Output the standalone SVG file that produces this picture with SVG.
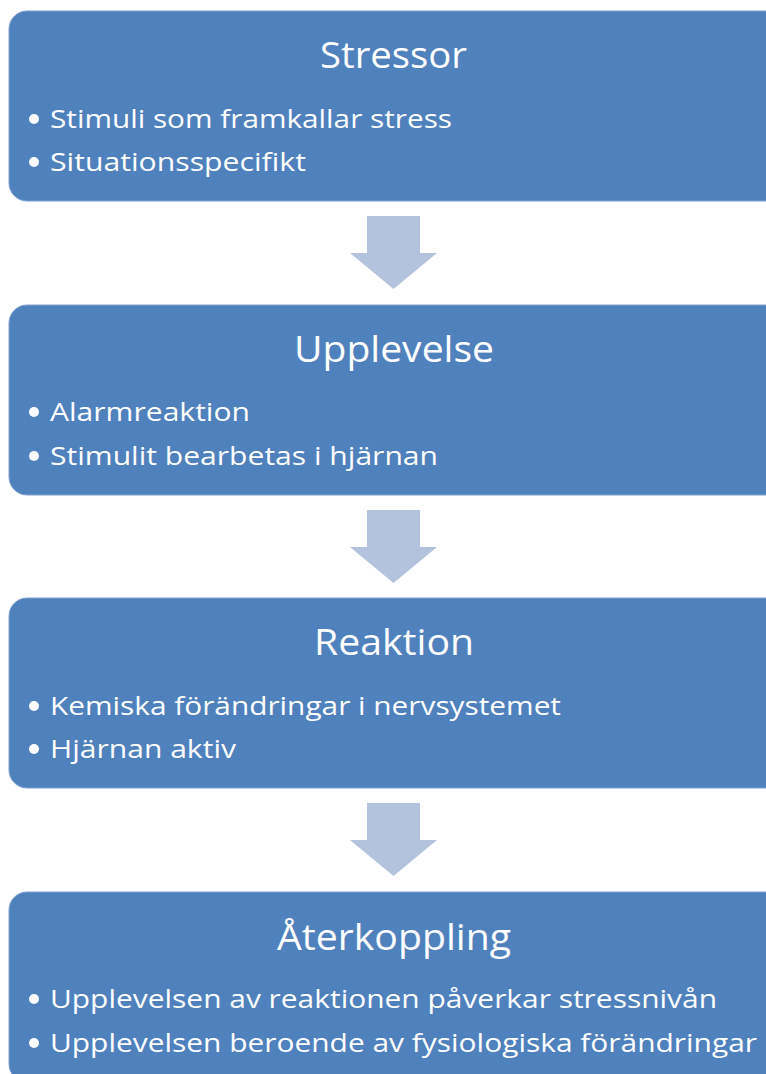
<svg xmlns="http://www.w3.org/2000/svg" width="766" height="1074" viewBox="0 0 766 1074">
<style>
.box{fill:#4F81BD;stroke:#7FA1D0;stroke-width:1}
.arrow{fill:#B3C2DD}
.title{font-family:"Open Sans","Liberation Sans",Arial,sans-serif;font-size:37px;fill:#FFFFFF;text-anchor:middle}
.item{font-family:"Open Sans","Liberation Sans",Arial,sans-serif;font-size:26px;fill:#FFFFFF}
</style>
<defs>
<circle id="dot" r="5" fill="#FFFFFF"/>
</defs>
<rect width="766" height="1074" fill="#FFFFFF"/>
<g id="connectors">
<polygon class="arrow" points="367,216 420,216 420,253 437,253 393.5,289 350,253 367,253"/>
<polygon class="arrow" points="367,510 420,510 420,547 437,547 393.5,583 350,547 367,547"/>
<polygon class="arrow" points="367,803 420,803 420,840 437,840 393.5,876 350,840 367,840"/>
</g>
<g id="stressor">
<rect class="box" x="9" y="11" width="790" height="190" rx="18"/>
<text class="title" x="393.5" y="68" textLength="147" lengthAdjust="spacingAndGlyphs">Stressor</text>
<use href="#dot" x="34" y="119"/>
<text class="item" x="50" y="128" textLength="402" lengthAdjust="spacingAndGlyphs">Stimuli som framkallar stress</text>
<use href="#dot" x="34" y="162"/>
<text class="item" x="50" y="171" textLength="256" lengthAdjust="spacingAndGlyphs">Situationsspecifikt</text>
</g>
<g id="upplevelse">
<rect class="box" x="9" y="305" width="790" height="190" rx="18"/>
<text class="title" x="394" y="362" textLength="200" lengthAdjust="spacingAndGlyphs">Upplevelse</text>
<use href="#dot" x="34" y="412"/>
<text class="item" x="50" y="421" textLength="200" lengthAdjust="spacingAndGlyphs">Alarmreaktion</text>
<use href="#dot" x="34" y="456"/>
<text class="item" x="50" y="465" textLength="388" lengthAdjust="spacingAndGlyphs">Stimulit bearbetas i hjärnan</text>
</g>
<g id="reaktion">
<rect class="box" x="9" y="598" width="790" height="190" rx="18"/>
<text class="title" x="394" y="655" textLength="160" lengthAdjust="spacingAndGlyphs">Reaktion</text>
<use href="#dot" x="34" y="706"/>
<text class="item" x="50" y="715" textLength="511" lengthAdjust="spacingAndGlyphs">Kemiska förändringar i nervsystemet</text>
<use href="#dot" x="34" y="749"/>
<text class="item" x="50" y="758" textLength="186" lengthAdjust="spacingAndGlyphs">Hjärnan aktiv</text>
</g>
<g id="aterkoppling">
<rect class="box" x="9" y="892" width="790" height="190" rx="18"/>
<text class="title" x="394" y="950" textLength="234" lengthAdjust="spacingAndGlyphs">Återkoppling</text>
<use href="#dot" x="34" y="999"/>
<text class="item" x="50" y="1008" textLength="667" lengthAdjust="spacingAndGlyphs">Upplevelsen av reaktionen påverkar stressnivån</text>
<use href="#dot" x="34" y="1043"/>
<text class="item" x="50" y="1052" textLength="707" lengthAdjust="spacingAndGlyphs">Upplevelsen beroende av fysiologiska förändringar</text>
</g>
</svg>
